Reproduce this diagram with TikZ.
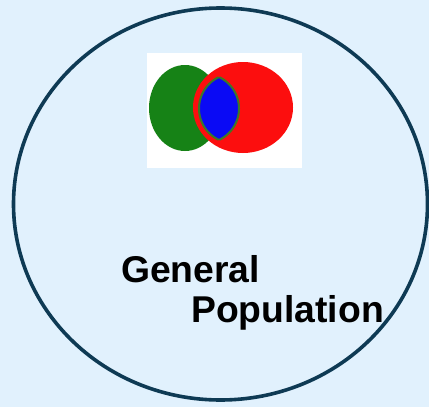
\documentclass[tikz,border=0pt]{standalone}
\usepackage{fontspec}
\setmainfont{Liberation Sans}
\definecolor{bgblue}{RGB}{225,241,253}
\definecolor{rimnavy}{RGB}{14,58,84}
\definecolor{vgreen}{RGB}{22,130,22}
\definecolor{vred}{RGB}{252,14,14}
\definecolor{vblue}{RGB}{10,10,245}
\definecolor{lensrim}{RGB}{60,120,40}
\tikzset{
  lbl/.style={anchor=base west, inner sep=0pt, font=\bfseries\fontsize{37.3}{40}\selectfont, text=black},
}
\begin{document}
\begin{tikzpicture}[x=1pt,y=-1pt]
\fill[bgblue] (0,0) rectangle (429,407);
\useasboundingbox (0,0) rectangle (429,407);
% population ellipse
\draw[rimnavy, line width=3.6pt] (220.5,204) ellipse [x radius=207, y radius=196];
% Venn picture
\fill[white] (147,53) rectangle (302,168);
\fill[vgreen] (185,108) ellipse [x radius=36, y radius=43];
\fill[vred] (243,107.5) ellipse [x radius=50, y radius=45.5];
% lens
\begin{scope}
  \clip (233.8,108.5) circle [radius=34.8];
  \fill[vblue] (204.2,108.5) circle [radius=34.8];
  \draw[lensrim, line width=2pt] (204.2,108.5) circle [radius=34.8];
\end{scope}
\begin{scope}
  \clip (204.2,108.5) circle [radius=34.8];
  \draw[lensrim, line width=2pt] (233.8,108.5) circle [radius=34.8];
\end{scope}
% labels
\node[lbl] (gen) at (121,282) {General};
\node[lbl] (pop) at (191,322) {Population};
\end{tikzpicture}
\end{document}
